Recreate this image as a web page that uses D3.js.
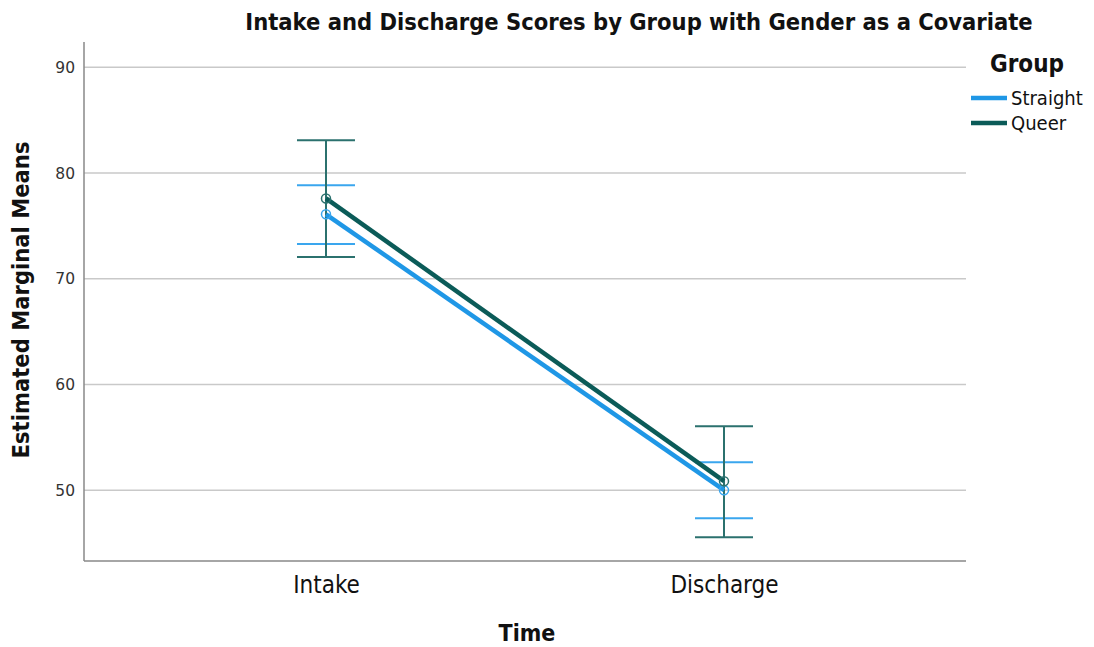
<!DOCTYPE html>
<html>
<head>
<meta charset="utf-8">
<script src="https://cdn.jsdelivr.net/npm/d3@7"></script>
<style>
  body { margin: 0; background: #fff; }
  text { font-family: "DejaVu Sans Condensed", "DejaVu Sans", sans-serif; }
</style>
</head>
<body>
<div id="chart"></div>
<script>
// data
var times = ["Intake", "Discharge"];
var groups = ["Straight", "Queer"];
var straightMeans = [76.1, 50.0];
var straightLower = [73.3, 47.35];
var straightUpper = [78.85, 52.65];
var queerMeans = [77.6, 50.85];
var queerLower = [72.05, 45.55];
var queerUpper = [83.1, 56.05];
var yTicks = [50, 60, 70, 80, 90];

var colors = { Straight: "#1f97e6", Queer: "#0b5b58" };
var barColors = { Straight: "#3aa6ee", Queer: "#2b716e" };

var series = [
  { name: "Straight", means: straightMeans, lo: straightLower, hi: straightUpper },
  { name: "Queer", means: queerMeans, lo: queerLower, hi: queerUpper }
];

var width = 1094, height = 647;
var margin = { top: 42, right: 128, bottom: 86, left: 84 };

var svg = d3.select("#chart").append("svg")
  .attr("width", width)
  .attr("height", height);

// scales
var xScale = d3.scalePoint()
  .domain(times)
  .range([margin.left, width - margin.right])
  .padding(0.608);

var yScale = d3.scaleLinear()
  .domain([43.3, 92.4])
  .range([height - margin.bottom, margin.top]);

// gridlines
svg.append("g")
  .selectAll("line")
  .data(yTicks)
  .enter().append("line")
  .attr("x1", margin.left)
  .attr("x2", width - margin.right)
  .attr("y1", function (d) { return yScale(d); })
  .attr("y2", function (d) { return yScale(d); })
  .attr("stroke", "#c9c9c9")
  .attr("stroke-width", 1.5);

// y axis
var yAxis = d3.axisLeft(yScale).tickValues(yTicks).tickSize(0).tickPadding(9);
var yNode = svg.append("g")
  .attr("transform", "translate(" + margin.left + ",0)")
  .call(yAxis);
yNode.select("path").remove();
yNode.selectAll("text")
  .style("font-size", "15.5px")
  .style("fill", "#333")
  .style("font-family", "'DejaVu Sans', sans-serif");

// x axis
var xAxis = d3.axisBottom(xScale).tickSize(0).tickPadding(15);
var xNode = svg.append("g")
  .attr("transform", "translate(0," + (height - margin.bottom) + ")")
  .call(xAxis);
xNode.select("path").remove();
xNode.selectAll("text")
  .style("font-size", "24px")
  .style("fill", "#111")
  .style("font-family", "'DejaVu Sans Condensed', sans-serif");

// frame lines (left + bottom)
svg.append("line")
  .attr("x1", margin.left).attr("x2", margin.left)
  .attr("y1", margin.top).attr("y2", height - margin.bottom)
  .attr("stroke", "#888").attr("stroke-width", 1.5);
svg.append("line")
  .attr("x1", margin.left).attr("x2", width - margin.right)
  .attr("y1", height - margin.bottom).attr("y2", height - margin.bottom)
  .attr("stroke", "#888").attr("stroke-width", 1.5);

// error bars
var capHalf = 29;
series.forEach(function (s) {
  var g = svg.append("g").attr("class", "errbar");
  times.forEach(function (t, i) {
    var x = xScale(t);
    g.append("line")
      .attr("x1", x).attr("x2", x)
      .attr("y1", yScale(s.lo[i])).attr("y2", yScale(s.hi[i]))
      .attr("stroke", barColors[s.name]).attr("stroke-width", 2);
    [s.lo[i], s.hi[i]].forEach(function (v) {
      g.append("line")
        .attr("x1", x - capHalf).attr("x2", x + capHalf)
        .attr("y1", yScale(v)).attr("y2", yScale(v))
        .attr("stroke", barColors[s.name]).attr("stroke-width", 2);
    });
  });
});

// lines
var lineFunction = d3.line()
  .x(function (d, i) { return xScale(times[i]); })
  .y(function (d) { return yScale(d); });

series.forEach(function (s) {
  svg.append("path")
    .attr("d", lineFunction(s.means))
    .attr("fill", "none")
    .attr("stroke", colors[s.name])
    .attr("stroke-width", 4.5);
});

// markers
series.forEach(function (s) {
  svg.selectAll(".dot-" + s.name)
    .data(s.means)
    .enter().append("circle")
    .attr("cx", function (d, i) { return xScale(times[i]); })
    .attr("cy", function (d) { return yScale(d); })
    .attr("r", 4.5)
    .attr("fill", "none")
    .attr("stroke", barColors[s.name])
    .attr("stroke-width", 1.5);
});

// title
svg.append("text")
  .attr("x", 639).attr("y", 30)
  .attr("text-anchor", "middle")
  .style("font-size", "23.5px")
  .style("font-weight", "bold")
  .style("fill", "#111")
  .text("Intake and Discharge Scores by Group with Gender as a Covariate");

// axis titles
svg.append("text")
  .attr("x", 527).attr("y", 641)
  .attr("text-anchor", "middle")
  .style("font-size", "23px")
  .style("font-weight", "bold")
  .style("fill", "#111")
  .text("Time");

svg.append("text")
  .attr("transform", "translate(29,300) rotate(-90)")
  .attr("text-anchor", "middle")
  .style("font-size", "23.5px")
  .style("font-weight", "bold")
  .style("fill", "#111")
  .text("Estimated Marginal Means");

// legend
var legend = svg.append("g");
legend.append("text")
  .attr("x", 990).attr("y", 72)
  .style("font-size", "24px")
  .style("font-weight", "bold")
  .style("fill", "#111")
  .text("Group");

groups.forEach(function (name, i) {
  var y = 98 + i * 25;
  legend.append("line")
    .attr("x1", 971).attr("x2", 1007)
    .attr("y1", y).attr("y2", y)
    .attr("stroke", colors[name]).attr("stroke-width", 4.5);
  legend.append("text")
    .attr("x", 1011).attr("y", y + 7)
    .style("font-size", "20px")
    .style("fill", "#111")
    .text(name);
});
</script>
</body>
</html>
